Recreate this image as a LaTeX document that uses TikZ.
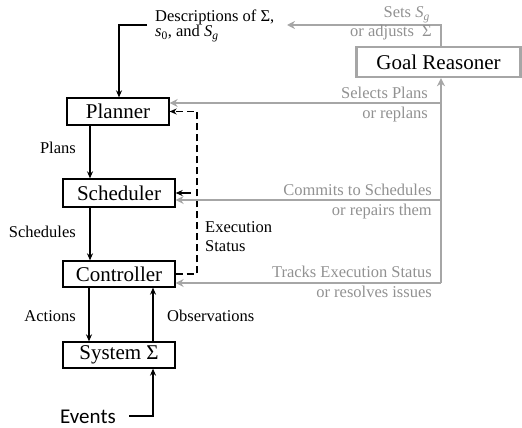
\documentclass[tikz,border=0pt]{standalone}
\usepackage{fontspec}
\setmainfont{Liberation Serif}
\newfontfamily\evfont{Carlito}
\usetikzlibrary{arrows.meta,calc}
\definecolor{lgray}{RGB}{166,166,166}
\definecolor{tgray}{RGB}{145,145,145}
\tikzset{
  boxnode/.style={draw=black,line width=1.3pt,inner sep=0pt,
    font=\fontsize{21}{25}\selectfont},
  lbl/.style={inner sep=0pt,font=\fontsize{16.5}{19}\selectfont},
  glbl/.style={lbl,text=tgray},
  blk/.style={line width=1.5pt,-{Stealth[length=7pt,width=6pt]}},
  dline/.style={line width=1.5pt,dash pattern=on 7pt off 4pt,
    -{Stealth[length=7pt,width=6pt]}},
  gline/.style={draw=lgray,line width=2.8pt,
    -{Stealth[length=8pt,width=8pt]}},
}
\begin{document}
\begin{tikzpicture}[x=1pt,y=-1pt]
\useasboundingbox (0,0) rectangle (522,428);

% boxes
\node[boxnode,minimum width=102pt,minimum height=27pt] (planner) at (118,111.5) {Planner};
\node[boxnode,minimum width=112pt,minimum height=28pt] (sched) at (119,193) {Scheduler};
\node[boxnode,minimum width=112pt,minimum height=26pt] (ctrl) at (119,274) {Controller};
\node[boxnode,minimum width=112pt,minimum height=26pt] (sys) at (119,355) {System Σ};
\node[boxnode,draw=lgray,line width=2.4pt,minimum width=164pt,minimum height=30pt] (goal) at (438.5,62) {Goal Reasoner};

% x positions of the vertical connectors
\coordinate (xl) at (90,0);
\coordinate (xa) at (89,0);
\coordinate (xo) at (153,0);
\coordinate (xd) at (197,0);
\coordinate (xg) at (441,0);

% descriptions into the planner
\coordinate (din) at (147,25);
\draw[blk] (din) -| (119,0 |- planner.north);
\node[lbl,anchor=base west] (desc1) at (155,22) {Descriptions of Σ,};
\node[lbl,anchor=base west] (desc2) at (155,37) {{\itshape s}\textsubscript{0}, and {\itshape S}\textsubscript{\itshape g}};

% planning chain
\draw[blk] (xl |- planner.south) -- (xl |- sched.north);
\node[lbl,anchor=base east] (lplans) at (76,153) {Plans};
\draw[blk] (xl |- sched.south) -- (xl |- ctrl.north);
\node[lbl,anchor=base east] (lsched) at (76,237) {Schedules};
\draw[blk] (xa |- ctrl.south) -- (xa |- sys.north);
\node[lbl,anchor=base east] (lact) at (76,321) {Actions};
\draw[blk] (xo |- sys.north) -- (xo |- ctrl.south);
\node[lbl,anchor=base west] (lobs) at (167,321) {Observations};

% events
\node[inner sep=0pt,anchor=base west,font=\evfont\fontsize{21}{25}\selectfont] (ev) at (60,423) {Events};
\coordinate (evs) at (129,416);
\draw[blk] (evs) -| (xo |- sys.south);

% execution status feedback
\draw[dline] (ctrl.east) -| (xd |- planner.east) -- (planner.east);
\draw[blk] ([xshift=15pt]sched.east) -- (sched.east);
\node[lbl,anchor=base west] (lex1) at (205,232) {Execution};
\node[lbl,anchor=base west] (lex2) at (205,251) {Status};

% goal reasoner connections
\draw[gline] (xg |- 0,283) -- (xg |- goal.south);
\draw[gline] (xg |- 0,103) -- ([yshift=8.5pt]planner.east);
\draw[gline] (xg |- 0,200) -- ([yshift=-7pt]sched.east);
\draw[gline] (xg |- 0,283) -- ([yshift=-9pt]ctrl.east);
\coordinate (sgout) at (287,25);
\draw[gline] (xg |- goal.north) |- (sgout);

\node[glbl,anchor=base east] (g1) at (430,18) {Sets {\itshape S}\textsubscript{\itshape g}};
\node[glbl,anchor=base east] (g2) at (432,37) {or adjusts\ \ Σ};
\node[glbl,anchor=base east] (g3) at (428,99) {Selects Plans};
\node[glbl,anchor=base east] (g4) at (428,118) {or replans};
\node[glbl,anchor=base east] (g5) at (432,195) {Commits to Schedules};
\node[glbl,anchor=base east] (g6) at (432,215) {or repairs them};
\node[glbl,anchor=base east] (g7) at (432,277) {Tracks Execution Status};
\node[glbl,anchor=base east] (g8) at (432,297) {or resolves issues};
\end{tikzpicture}
\end{document}
